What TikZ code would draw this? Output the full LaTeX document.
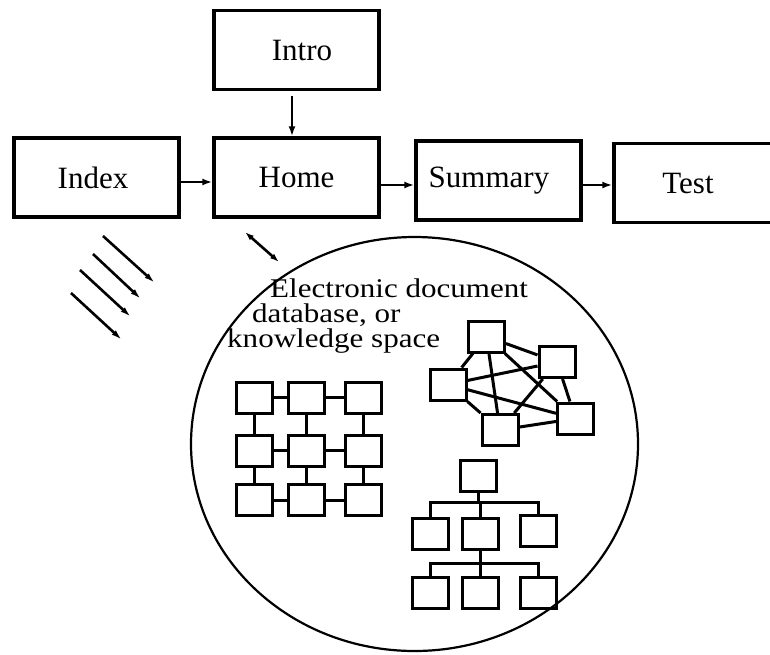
\documentclass[tikz,border=0pt]{standalone}
\usepackage{fontspec}
\setmainfont{Liberation Serif}
\usetikzlibrary{arrows.meta,shapes.geometric}
\begin{document}
\begin{tikzpicture}[x=1pt,y=-1pt,
  page/.style={draw, line width=3.4pt, minimum width=165pt, minimum height=79pt, inner sep=0pt, font=\fontsize{31pt}{31pt}\selectfont},
  flow/.style={line width=2.6pt, -{Latex[length=10pt,width=7pt]}},
  hint/.style={line width=2.6pt, -{Latex[length=11pt,width=6pt]}},
  both/.style={line width=2.6pt, {Latex[length=9pt,width=6pt]}-{Latex[length=9pt,width=6pt]}},
  cell/.style={draw, line width=3pt, minimum width=36pt, minimum height=31pt, inner sep=0pt},
  link/.style={line width=3pt},
  kb/.style={draw, ellipse, line width=2.2pt, minimum width=447pt, minimum height=414pt, inner sep=0pt},
  kbtext/.style={align=left, inner sep=0pt, font=\fontsize{27pt}{25pt}\selectfont}]
\useasboundingbox (0,0) rectangle (770,654);
\clip (0,0) rectangle (770,654);

% top row of pages
\node[page] (intro) at (296.5,50) {\hspace*{11pt}Intro};
\node[page] (index) at (96.5,177.5) {\hspace*{-7pt}Index};
\node[page] (home) at (296.5,177.5) {Home};
\node[page] (summary) at (498.5,180.5) {\hspace*{-19pt}Summary};
\node[page] (test) at (696.5,183) {\hspace*{-17pt}Test};

\draw[flow] ([xshift=-4.5pt,yshift=-5pt]intro.south) -- ([xshift=-4.5pt]home.north);
\draw[flow] ([yshift=-4.5pt]index.east) -- ([yshift=-4.5pt]home.west);
\draw[flow] ([yshift=-7.5pt]home.east) -- ([yshift=-4.5pt]summary.west);
\draw[flow] ([yshift=-4.5pt]summary.east) -- ([yshift=-2pt]test.west);

% loose arrows
\coordinate (a1s) at (103,236); \coordinate (a1e) at (155,283);
\coordinate (a2s) at (93,254);  \coordinate (a2e) at (141,299);
\coordinate (a3s) at (80,270);  \coordinate (a3e) at (131,317);
\coordinate (a4s) at (71,293);  \coordinate (a4e) at (122,340);
\draw[hint] (a1s) -- (a1e);
\draw[hint] (a2s) -- (a2e);
\draw[hint] (a3s) -- (a3e);
\draw[hint] (a4s) -- (a4e);
\coordinate (ds) at (245,232); \coordinate (de) at (279,262);
\draw[both] (ds) -- (de);

% knowledge space
\node[kb] (space) at (414.5,444) {};
\node[kbtext, anchor=north west] (spacetext) at (227,279)
  {\hspace*{43pt}\scalebox{1.15}[1]{Electronic document}\\
   \hspace*{25pt}\scalebox{1.15}[1]{database, or}\\
   \scalebox{1.15}[1]{knowledge space}};

% grid
\node[cell] (g11) at (254.5,397.5) {};
\node[cell] (g12) at (306.5,397.5) {};
\node[cell] (g13) at (363,397.5) {};
\node[cell] (g21) at (254.5,450.5) {};
\node[cell] (g22) at (306.5,450.5) {};
\node[cell] (g23) at (363,450.5) {};
\node[cell] (g31) at (254.5,500) {};
\node[cell] (g32) at (306.5,500) {};
\node[cell] (g33) at (363,500) {};
\draw[link] (g11) -- (g12); \draw[link] (g12) -- (g13);
\draw[link] (g21) -- (g22); \draw[link] (g22) -- (g23);
\draw[link] (g31) -- (g32); \draw[link] (g32) -- (g33);
\draw[link] (g11) -- (g21); \draw[link] (g21) -- (g31);
\draw[link] (g12) -- (g22); \draw[link] (g22) -- (g32);
\draw[link] (g13) -- (g23); \draw[link] (g23) -- (g33);

% network
\node[cell] (na) at (486.5,336.5) {};
\node[cell] (nb) at (557,362) {};
\node[cell] (nc) at (448,384.5) {};
\node[cell] (nd) at (500,430) {};
\node[cell] (ne) at (575.5,418.5) {};
\draw[link] (na) -- (nb); \draw[link] (na) -- (nc);
\draw[link] (na) -- (nd); \draw[link] (na) -- (ne);
\draw[link] (nb) -- (nc); \draw[link] (nb) -- (nd);
\draw[link] (nb) -- (ne); \draw[link] (nc) -- (nd);
\draw[link] (nc) -- (ne); \draw[link] (nd) -- (ne);

% tree
\node[cell] (root) at (478,475.5) {};
\node[cell] (l2) at (430,534) {};
\node[cell] (m2) at (480,534) {};
\node[cell] (r2) at (538.5,531) {};
\node[cell] (l3) at (430,593) {};
\node[cell] (m3) at (480,593) {};
\node[cell] (r3) at (538.5,593) {};
\coordinate (t1) at (0,502);
\coordinate (t2) at (0,563);
\draw[link] (root.south) -- (root.south |- t1);
\draw[link] (l2.north) |- (r2.north |- t1) -- (r2.north);
\draw[link] (m2.north) -- (m2.north |- t1);
\draw[link] (m2.south) -- (m2.south |- t2);
\draw[link] (l3.north) |- (r3.north |- t2) -- (r3.north);
\draw[link] (m3.north) -- (m3.north |- t2);
\end{tikzpicture}
\end{document}
